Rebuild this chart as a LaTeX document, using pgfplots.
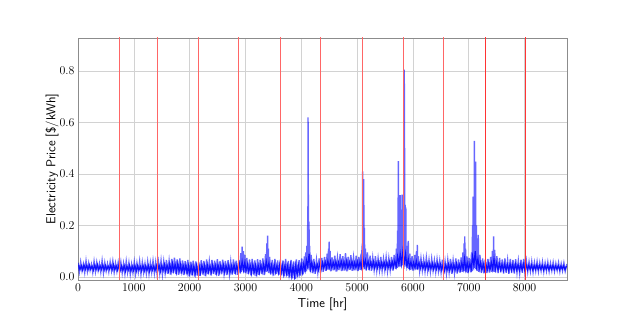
\documentclass[border=0pt]{standalone}
\usepackage{pgfplots}
\pgfplotsset{compat=1.18}
\begin{document}
\begin{tikzpicture}
\begin{axis}[
    scale only axis, width=489bp, height=242bp,
    xmin=0, xmax=8760, ymin=-0.012, ymax=0.928,
    xtick={0,1000,...,8000},
    ytick={0,0.2,0.4,0.6,0.8},
    xticklabel style={/pgf/number format/1000 sep={}},
    yticklabel style={/pgf/number format/fixed, /pgf/number format/fixed zerofill, /pgf/number format/precision=1},
    tick label style={font=\fontsize{11.5}{13}\selectfont},
    label style={font=\sffamily\fontsize{13}{15}\selectfont},
    xlabel={Time [hr]},
    ylabel={Electricity Price [\$/kWh]},
    ylabel style={yshift=-6bp},
    grid=major,
    grid style={line width=0.6pt, draw=gray!35},
    axis line style={draw=gray!90, line width=0.8pt},
    tick style={draw=none},
]
% hourly price, outer range
\addplot[blue, opacity=0.6, line width=1.4pt] coordinates {
(0,.055)(24,.020)(48,.058)(72,.024)(96,.050)(120,.017)(144,.062)(168,.022)(192,.054)(216,.026)(240,.049)(264,.018)(288,.060)(312,.021)(336,.057)(360,.025)(384,.052)(408,.019)(432,.063)(456,.016)(480,.055)(504,.023)(528,.051)(552,.020)(576,.058)(600,.024)(624,.061)(648,.018)(672,.053)(696,.022)(720,.056)(744,.021)
(768,.057)(792,.015)(816,.052)(840,.012)(864,.060)(888,.018)(912,.055)(936,.010)(960,.049)(984,.016)(1008,.058)(1032,.013)(1056,.054)(1080,.019)(1104,.061)(1128,.011)(1152,.056)(1176,.017)(1200,.052)(1224,.014)(1248,.059)(1272,.012)(1296,.055)(1320,.018)(1344,.062)(1368,.015)(1392,.057)(1416,.013)
(1440,.058)(1464,.014)(1488,.063)(1512,.010)(1536,.060)(1560,.016)(1584,.066)(1608,.012)(1632,.062)(1656,.009)(1680,.070)(1704,.015)(1728,.075)(1752,.011)(1776,.068)(1800,.008)(1824,.072)(1848,.013)(1872,.064)(1896,.007)(1920,.061)(1944,.010)(1968,.066)(1992,.002)(2016,.059)(2040,.006)(2064,.063)(2088,.001)(2112,.060)(2136,.005)(2160,.058)
(2184,.004)(2208,.065)(2232,.009)(2256,.062)(2280,.003)(2304,.068)(2328,.011)(2352,.060)(2376,.006)(2400,.066)(2424,.012)(2448,.063)(2472,.008)(2496,.069)(2520,.004)(2544,.061)(2568,.010)(2592,.067)(2616,.013)(2640,.062)(2664,.007)(2688,.065)(2712,.011)(2736,.060)(2760,.009)(2784,.068)(2808,.012)(2832,.063)(2856,.008)(2880,.066)
(2904,.014)(2916,.092)(2928,.020)(2940,.118)(2952,.025)(2964,.100)(2976,.018)(2988,.085)(3000,.015)(3024,.074)(3048,.012)(3072,.068)(3096,.006)(3120,.070)(3144,.009)(3168,.064)(3192,.003)(3216,.069)(3240,.008)(3264,.066)(3288,.011)(3312,.072)(3336,.007)(3360,.088)(3372,.020)(3384,.130)(3392,.030)(3396,.160)(3402,.025)(3410,.110)(3420,.015)(3432,.078)(3456,.010)(3480,.066)(3504,.005)(3528,.070)(3552,.012)(3576,.064)(3600,.008)(3624,.067)
(3648,.006)(3672,.064)(3696,.002)(3720,.070)(3744,.004)(3768,.062)(3792,-.002)(3816,.066)(3840,-.006)(3864,.060)(3888,-.008)(3912,.068)(3936,.000)(3960,.065)(3984,.005)(4008,.072)(4032,.010)(4056,.080)(4068,.018)(4080,.095)(4092,.022)(4100,.120)(4108,.030)(4114,.200)(4118,.040)(4121,.620)(4124,.050)(4128,.320)(4132,.035)(4138,.215)(4144,.028)(4150,.120)(4160,.020)(4176,.085)(4200,.015)(4224,.070)(4248,.012)(4272,.066)(4296,.018)(4320,.072)(4344,.014)
(4368,.074)(4392,.020)(4416,.078)(4440,.024)(4464,.090)(4476,.028)(4488,.110)(4496,.030)(4500,.137)(4506,.028)(4516,.100)(4528,.022)(4552,.076)(4576,.026)(4600,.082)(4624,.021)(4648,.075)(4672,.027)(4696,.088)(4720,.023)(4744,.080)(4768,.025)(4792,.092)(4816,.022)(4840,.078)(4864,.028)(4888,.084)(4912,.024)(4936,.076)(4960,.026)(4984,.082)(5008,.023)(5032,.078)(5056,.027)(5070,.090)(5080,.030)
(5088,.120)(5094,.035)(5100,.410)(5104,.040)(5108,.250)(5112,.045)(5118,.380)(5124,.038)(5130,.190)(5138,.030)(5148,.110)(5160,.025)(5184,.095)(5208,.027)(5232,.082)(5256,.024)(5280,.075)(5304,.028)(5328,.080)(5352,.025)(5376,.072)(5400,.027)(5424,.078)(5448,.024)(5472,.070)(5496,.026)(5520,.076)(5544,.023)(5568,.072)(5592,.027)(5616,.078)(5640,.025)(5664,.085)(5688,.030)(5704,.110)(5716,.035)(5726,.180)(5732,.040)(5738,.450)(5742,.045)(5748,.220)(5754,.040)(5760,.318)(5766,.045)(5772,.318)(5780,.040)(5788,.160)(5796,.045)(5806,.320)(5812,.045)(5818,.320)(5824,.050)
(5836,.300)(5840,.060)(5845,.805)(5849,.060)(5852,.500)(5856,.050)(5862,.280)(5866,.045)(5872,.270)(5878,.040)(5888,.120)(5900,.035)(5916,.140)(5928,.030)(5944,.090)(5960,.027)(5984,.080)(6008,.025)(6032,.085)(6048,.028)(6064,.100)(6072,.030)(6078,.124)(6084,.028)(6096,.080)(6120,.024)(6144,.072)(6168,.026)(6192,.068)(6216,.022)(6240,.074)(6264,.024)(6288,.066)(6312,.021)(6336,.070)(6360,.025)(6384,.064)(6408,.020)(6432,.068)(6456,.023)(6480,.063)(6504,.018)(6528,.067)(6552,.010)
(6576,.060)(6600,.014)(6624,.066)(6648,.018)(6672,.070)(6696,.012)(6720,.064)(6744,.016)(6768,.072)(6792,.013)(6816,.068)(6840,.017)(6864,.076)(6880,.020)(6896,.095)(6908,.022)(6918,.130)(6924,.025)(6928,.157)(6934,.022)(6942,.110)(6952,.018)(6968,.080)(6984,.015)(7008,.074)(7032,.018)(7050,.095)(7060,.022)(7068,.200)(7072,.025)(7077,.312)(7082,.030)(7088,.280)(7094,.035)(7100,.528)(7106,.040)(7112,.300)(7118,.035)(7122,.448)(7128,.030)(7136,.200)(7144,.025)(7152,.130)(7160,.022)(7170,.163)(7180,.020)(7200,.085)(7224,.016)(7248,.072)(7272,.014)(7296,.068)
(7320,.015)(7344,.070)(7368,.017)(7392,.078)(7408,.020)(7424,.100)(7436,.022)(7446,.157)(7452,.020)(7464,.105)(7480,.018)(7504,.080)(7528,.015)(7552,.074)(7576,.018)(7600,.068)(7624,.013)(7648,.072)(7672,.016)(7696,.065)(7720,.012)(7744,.070)(7768,.015)(7792,.066)(7816,.013)(7840,.069)(7864,.017)(7888,.063)(7912,.014)(7936,.067)(7960,.016)(7984,.070)(8008,.018)
(8032,.062)(8056,.020)(8080,.058)(8104,.022)(8128,.060)(8152,.019)(8176,.056)(8200,.023)(8224,.059)(8248,.021)(8272,.055)(8296,.024)(8320,.058)(8344,.020)(8368,.054)(8392,.023)(8416,.057)(8440,.021)(8464,.053)(8488,.024)(8512,.056)(8536,.022)(8560,.052)(8584,.025)(8608,.055)(8632,.021)(8656,.051)(8680,.024)(8704,.054)(8728,.022)(8760,.050)
};
% hourly price, inner range
\addplot[blue, opacity=0.85, line width=1.2pt] coordinates {
(12,.045)(36,.028)(60,.043)(84,.026)(108,.047)(132,.029)(156,.044)(180,.027)(204,.046)(228,.030)(252,.042)(276,.026)(300,.045)(324,.028)(348,.047)(372,.027)(396,.043)(420,.029)(444,.046)(468,.026)(492,.044)(516,.028)(540,.042)(564,.030)(588,.045)(612,.027)(636,.047)(660,.028)(684,.043)(708,.026)(732,.045)
(756,.024)(780,.042)(804,.025)(828,.044)(852,.022)(876,.041)(900,.026)(924,.045)(948,.023)(972,.042)(996,.025)(1020,.044)(1044,.022)(1068,.043)(1092,.026)(1116,.041)(1140,.024)(1164,.045)(1188,.023)(1212,.042)(1236,.025)(1260,.044)(1284,.022)(1308,.043)(1332,.026)(1356,.041)(1380,.024)(1404,.044)
(1428,.023)(1452,.046)(1476,.021)(1500,.044)(1524,.024)(1548,.048)(1572,.020)(1596,.045)(1620,.022)(1644,.050)(1668,.019)(1692,.052)(1716,.023)(1740,.049)(1764,.018)(1788,.051)(1812,.021)(1836,.047)(1860,.017)(1884,.045)(1908,.020)(1932,.046)(1956,.014)(1980,.043)(2004,.012)(2028,.045)(2052,.015)(2076,.042)(2100,.011)(2124,.044)(2148,.016)
(2172,.043)(2196,.015)(2220,.046)(2244,.018)(2268,.044)(2292,.014)(2316,.047)(2340,.019)(2364,.043)(2388,.016)(2412,.045)(2436,.020)(2460,.044)(2484,.015)(2508,.047)(2532,.018)(2556,.043)(2580,.021)(2604,.046)(2628,.017)(2652,.044)(2676,.019)(2700,.045)(2724,.016)(2748,.043)(2772,.020)(2796,.047)(2820,.018)(2844,.044)(2868,.021)
(2892,.050)(2916,.024)(2940,.060)(2964,.026)(2988,.055)(3012,.022)(3036,.048)(3060,.019)(3084,.045)(3108,.014)(3132,.047)(3156,.016)(3180,.044)(3204,.012)(3228,.046)(3252,.017)(3276,.045)(3300,.019)(3324,.048)(3348,.021)(3372,.060)(3396,.030)(3420,.055)(3444,.020)(3468,.046)(3492,.015)(3516,.047)(3540,.018)(3564,.044)(3588,.016)(3612,.046)
(3636,.014)(3660,.044)(3684,.010)(3708,.046)(3732,.012)(3756,.043)(3780,.006)(3804,.045)(3828,.003)(3852,.042)(3876,.002)(3900,.046)(3924,.007)(3948,.044)(3972,.012)(3996,.048)(4020,.017)(4044,.052)(4068,.025)(4092,.065)(4116,.040)(4140,.090)(4164,.030)(4188,.056)(4212,.024)(4236,.050)(4260,.025)(4284,.049)(4308,.027)(4332,.052)
(4356,.030)(4380,.055)(4404,.032)(4428,.058)(4452,.034)(4476,.062)(4500,.036)(4524,.060)(4548,.033)(4572,.057)(4596,.035)(4620,.059)(4644,.032)(4668,.056)(4692,.036)(4716,.061)(4740,.034)(4764,.058)(4788,.035)(4812,.062)(4836,.033)(4860,.057)(4884,.036)(4908,.060)(4932,.034)(4956,.056)(4980,.035)(5004,.059)(5028,.033)(5052,.058)(5076,.036)
(5100,.080)(5124,.040)(5148,.065)(5172,.036)(5196,.060)(5220,.034)(5244,.057)(5268,.036)(5292,.059)(5316,.033)(5340,.056)(5364,.035)(5388,.058)(5412,.034)(5436,.055)(5460,.036)(5484,.057)(5508,.033)(5532,.056)(5556,.035)(5580,.058)(5604,.034)(5628,.060)(5652,.036)(5676,.062)(5700,.040)(5724,.080)(5748,.050)(5772,.090)(5796,.050)(5820,.100)
(5844,.050)(5868,.090)(5892,.040)(5916,.070)(5940,.036)(5964,.058)(5988,.034)(6012,.056)(6036,.035)(6060,.062)(6084,.036)(6108,.055)(6132,.033)(6156,.053)(6180,.032)(6204,.052)(6228,.031)(6252,.054)(6276,.030)(6300,.051)(6324,.031)(6348,.052)(6372,.029)(6396,.050)(6420,.030)(6444,.051)(6468,.028)(6492,.049)(6516,.027)(6540,.048)
(6564,.024)(6588,.047)(6612,.026)(6636,.049)(6660,.025)(6684,.050)(6708,.024)(6732,.048)(6756,.026)(6780,.051)(6804,.025)(6828,.049)(6852,.027)(6876,.055)(6900,.030)(6924,.070)(6948,.028)(6972,.054)(6996,.026)(7020,.052)(7044,.030)(7068,.080)(7092,.045)(7116,.100)(7140,.040)(7164,.070)(7188,.030)(7212,.055)(7236,.026)(7260,.050)(7284,.025)
(7308,.049)(7332,.026)(7356,.051)(7380,.028)(7404,.056)(7428,.030)(7452,.070)(7476,.029)(7500,.055)(7524,.026)(7548,.051)(7572,.027)(7596,.049)(7620,.025)(7644,.050)(7668,.026)(7692,.048)(7716,.024)(7740,.050)(7764,.026)(7788,.048)(7812,.025)(7836,.050)(7860,.027)(7884,.047)(7908,.025)(7932,.049)(7956,.026)(7980,.050)(8004,.027)
(8028,.047)(8052,.027)(8076,.045)(8100,.029)(8124,.046)(8148,.027)(8172,.044)(8196,.029)(8220,.046)(8244,.028)(8268,.044)(8292,.030)(8316,.045)(8340,.027)(8364,.043)(8388,.029)(8412,.045)(8436,.028)(8460,.043)(8484,.030)(8508,.044)(8532,.028)(8556,.042)(8580,.030)(8604,.044)(8628,.028)(8652,.042)(8676,.030)(8700,.043)(8724,.028)(8748,.042)
};
% month boundaries
\pgfplotsinvokeforeach{744,1416,2160,2880,3624,4344,5088,5832,6552}{
  \addplot[red!60, line width=1pt, forget plot] coordinates {(#1,-0.1)(#1,1)};
}
\pgfplotsinvokeforeach{7296,8016}{
  \addplot[red!80, line width=0.6pt, forget plot] coordinates {(#1,-0.1)(#1,1)};
}
\end{axis}
\pgfresetboundingbox
\useasboundingbox ([xshift=-78bp,yshift=-35bp]current axis.south west) rectangle ([xshift=63bp,yshift=38bp]current axis.north east);
\end{tikzpicture}
\end{document}
